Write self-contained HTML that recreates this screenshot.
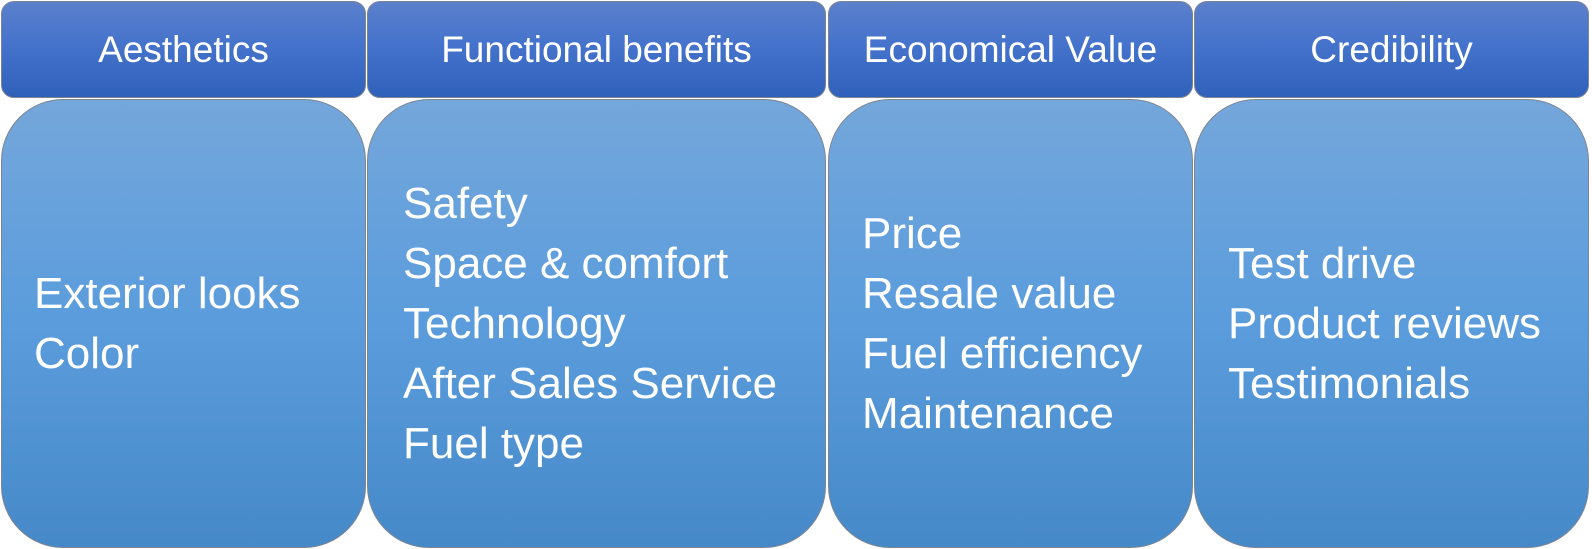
<!DOCTYPE html>
<html><head><meta charset="utf-8"><style>
body{margin:0;width:1592px;height:549px;background:#fff;overflow:hidden;font-family:"Liberation Sans",sans-serif;}
.h{position:absolute;top:1px;height:97px;box-sizing:border-box;border:1px solid #7f8590;border-radius:13px;background:linear-gradient(#5b80cb,#4573cc 45%,#2f61bb);color:#fff;font-size:37px;display:flex;align-items:center;justify-content:center;}
.b{position:absolute;top:99px;height:449px;box-sizing:border-box;border:1px solid #7f8590;border-radius:62px;background:linear-gradient(#74a7db,#5a9cdc 50%,#4689c8);color:#fff;font-size:44px;line-height:60px;display:flex;flex-direction:column;justify-content:center;}
</style></head><body>
<div class="h" style="left:1px;width:365px">Aesthetics</div>
<div class="h" style="left:367px;width:459px">Functional benefits</div>
<div class="h" style="left:828px;width:365px">Economical Value</div>
<div class="h" style="left:1194px;width:395px">Credibility</div>

<div class="b" style="left:1px;width:365px;padding-left:32px">
<div>Exterior looks</div>
<div>Color</div></div>
<div class="b" style="left:367px;width:459px;padding-left:35px">
<div>Safety</div>
<div>Space &amp; comfort</div>
<div>Technology</div>
<div>After Sales Service</div>
<div>Fuel type</div></div>
<div class="b" style="left:828px;width:365px;padding-left:33px">
<div>Price</div>
<div>Resale value</div>
<div>Fuel efficiency</div>
<div>Maintenance</div></div>
<div class="b" style="left:1194px;width:395px;padding-left:33px">
<div>Test drive</div>
<div>Product reviews</div>
<div>Testimonials</div></div>
</body></html>
